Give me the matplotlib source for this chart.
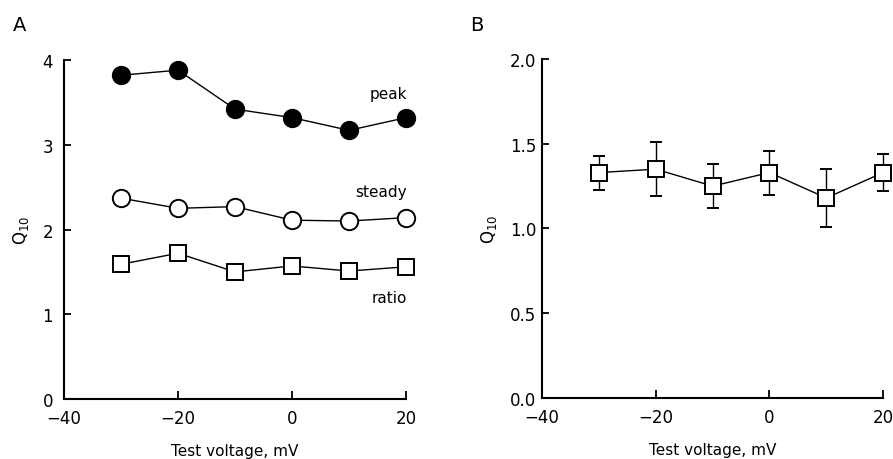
import matplotlib
matplotlib.use("Agg")
import matplotlib.pyplot as plt

plt.rcParams['font.family'] = ['DejaVu Sans']

voltage = [-30, -20, -10, 0, 10, 20]

# panel A: Q10 of peak, steady-state current and their ratio
peak = [3.82, 3.88, 3.42, 3.32, 3.17, 3.32]
steady = [2.37, 2.25, 2.27, 2.11, 2.10, 2.14]
ratio = [1.59, 1.72, 1.50, 1.57, 1.51, 1.56]

# panel B: Q10 mean and error
q10_mean = [1.33, 1.35, 1.25, 1.33, 1.18, 1.33]
q10_err = [0.10, 0.16, 0.13, 0.13, 0.17, 0.11]

xticks = [-40, -20, 0, 20]
xticklabels = ['\u221240', '\u221220', '0', '20']

fig = plt.figure(figsize=(8.93, 4.60), dpi=100)
axA = fig.add_axes([0.0717, 0.1304, 0.383, 0.737])
axB = fig.add_axes([0.607, 0.1326, 0.382, 0.737])


def style(ax, yticks, yticklabels, ypad):
    ax.set_xlim(-40, 20)
    ax.set_ylim(yticks[0], yticks[-1])
    ax.spines['top'].set_visible(False)
    ax.spines['right'].set_visible(False)
    for s in ('left', 'bottom'):
        ax.spines[s].set_linewidth(1.5)
    ax.set_xticks(xticks)
    ax.set_xticklabels(xticklabels)
    ax.set_yticks(yticks)
    ax.set_yticklabels(yticklabels)
    ax.tick_params(axis='x', direction='in', length=6, width=1.3, pad=7, labelsize=12)
    ax.tick_params(axis='y', direction='in', length=5, width=1.3, pad=ypad, labelsize=12)
    ax.set_xlabel('Test voltage, mV', fontsize=11, labelpad=12)
    ax.set_ylabel('Q$_{10}$', fontsize=12, labelpad=8)
    for lab in ax.get_xticklabels() + ax.get_yticklabels():
        lab.set_clip_on(False)


line_kw = dict(color='black', lw=1.0, mec='black', mew=1.4, clip_on=False)
axA.plot(voltage, peak, marker='o', ms=12.5, mfc='black', **line_kw)
axA.plot(voltage, steady, marker='o', ms=12.5, mfc='white', **line_kw)
axA.plot(voltage, ratio, marker='s', ms=11.5, mfc='white', **line_kw)

axA.text(20.2, 3.60, 'peak', ha='right', va='center', fontsize=11)
axA.text(20.2, 2.45, 'steady', ha='right', va='center', fontsize=11)
axA.text(20.2, 1.20, 'ratio', ha='right', va='center', fontsize=11)

style(axA, [0, 1, 2, 3, 4], ['0', '1', '2', '3', '4'], 8)

axB.errorbar(voltage, q10_mean, yerr=q10_err, color='black', lw=1.0, elinewidth=1.0,
             capsize=4, capthick=1.0, marker='s', ms=11, mfc='white', mec='black',
             mew=1.4, clip_on=False)
style(axB, [0.0, 0.5, 1.0, 1.5, 2.0], ['0.0', '0.5', '1.0', '1.5', '2.0'], 4)

fig.text(0.014, 0.945, 'A', fontsize=14, va='center')
fig.text(0.526, 0.945, 'B', fontsize=14, va='center')

plt.savefig('out.png', dpi=100)
